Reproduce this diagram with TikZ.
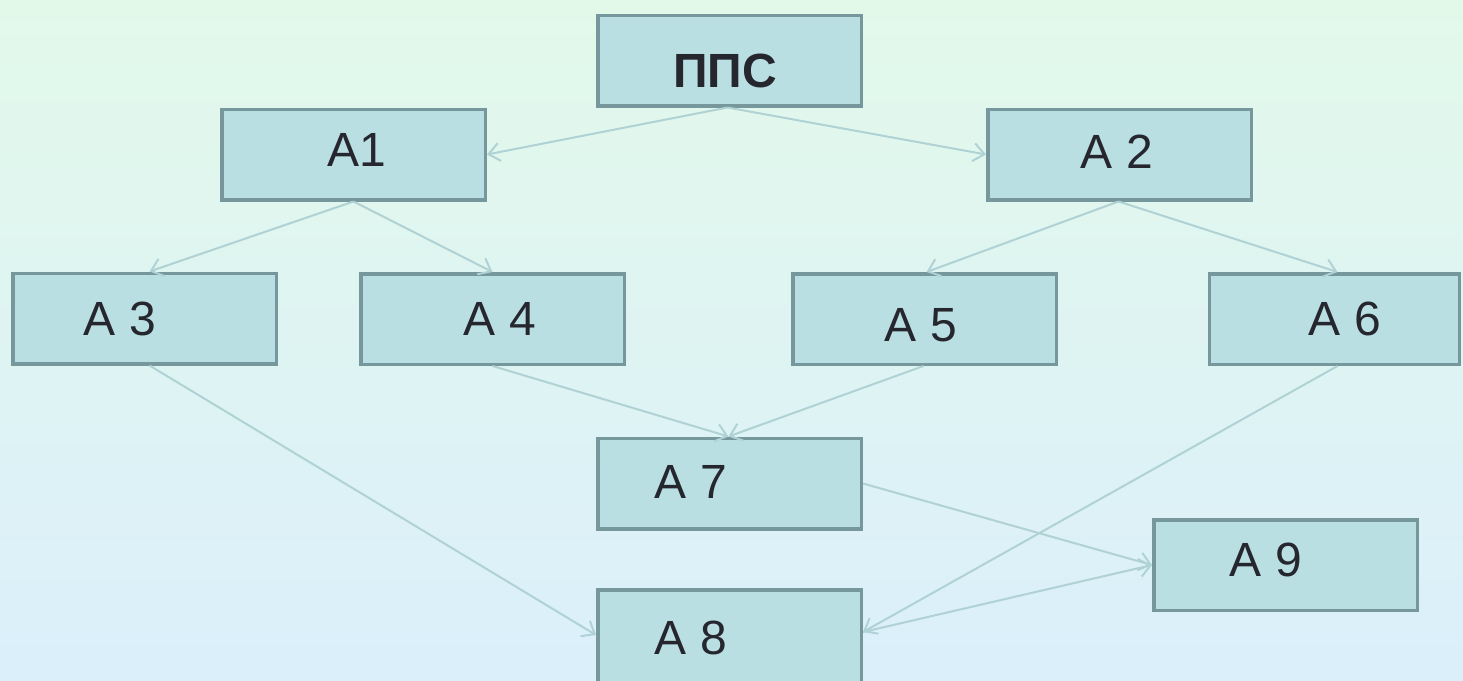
\documentclass[tikz,border=0pt]{standalone}
\usepackage{fontspec}
\setmainfont{Liberation Sans}
\usetikzlibrary{arrows.meta,calc}
\definecolor{bgtop}{RGB}{226,249,234}
\definecolor{bgbot}{RGB}{219,239,251}
\definecolor{boxfill}{RGB}{185,223,227}
\definecolor{boxline}{RGB}{118,152,156}
\definecolor{txt}{RGB}{38,38,46}
\definecolor{arr}{RGB}{176,210,213}
\begin{document}
\begin{tikzpicture}[x=1pt,y=-1pt,
  box/.style={draw=boxline, line width=3.5pt, fill=boxfill, minimum width=263.5pt, minimum height=90.5pt, inner sep=0pt},
  lbl/.style={text=txt, inner sep=0pt, font=\fontsize{48}{56}\selectfont},
  conn/.style={draw=arr, line width=2pt, -{Straight Barb[length=11pt,width=18pt]}}]
\useasboundingbox (0,0) rectangle (1463,680);
\clip (0,0) rectangle (1463,680);
\fill[top color=bgtop, bottom color=bgbot] (0,0) rectangle (1463,680);
% boxes
\node[box] (pps) at (729.5,60.5) {};
\node[box] (a1) at (353.5,154.5) {};
\node[box] (a2) at (1119.5,154.5) {};
\node[box] (a3) at (144.5,318.5) {};
\node[box] (a4) at (492.5,319) {};
\node[box] (a5) at (924.5,319) {};
\node[box, minimum width=250pt] (a6) at (1334.5,319) {};
\node[box] (a7) at (729.5,483.5) {};
\node[box, minimum height=100pt] (a8) at (729.5,639.75) {};
\node[box] (a9) at (1285.5,565) {};
% labels
\node[lbl, font=\fontsize{48}{56}\selectfont\bfseries] (tpps) at (725,71) {ППС};
\node[lbl] (t1) at (357,150) {A1};
\node[lbl] (t2) at (1117,152) {A 2};
\node[lbl] (t3) at (120,319) {A 3};
\node[lbl] (t4) at (500,319) {A 4};
\node[lbl] (t5) at (921,325) {A 5};
\node[lbl] (t6) at (1345,319) {A 6};
\node[lbl] (t7) at (691,482) {A 7};
\node[lbl] (t8) at (691,638) {A 8};
\node[lbl] (t9) at (1266,560) {A 9};
% connectors
\draw[conn] ([xshift=-2pt]pps.south) -- (a1.east);
\draw[conn] ([xshift=-2pt]pps.south) -- (a2.west);
\draw[conn] (a1.south) -- ([xshift=5pt]a3.north);
\draw[conn] (a1.south) -- (a4.north);
\draw[conn] ([xshift=-1pt]a2.south) -- ([xshift=2pt]a5.north);
\draw[conn] ([xshift=-1pt]a2.south) -- ([xshift=3pt]a6.north);
\draw[conn] ([xshift=5pt]a3.south) -- ([yshift=4.75pt]a8.west);
\draw[conn] (a4.south) -- ([xshift=-1pt]a7.north);
\draw[conn] ([xshift=-1pt]a5.south) -- ([xshift=-1pt]a7.north);
\draw[conn] ([xshift=3pt]a6.south) -- ([yshift=7.75pt]a8.east);
\draw[conn] (a7.east) -- (a9.west);
\draw[conn] ([yshift=7.75pt]a8.east) -- (a9.west);
\end{tikzpicture}
\end{document}
